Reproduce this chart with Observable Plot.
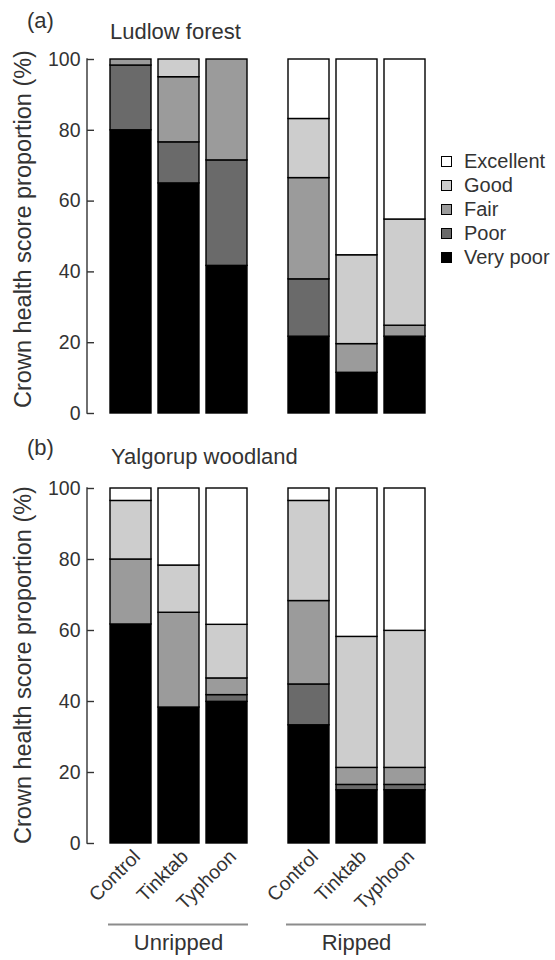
<!DOCTYPE html>
<html><head><meta charset="utf-8">
<script src="https://cdn.jsdelivr.net/npm/d3@7"></script>
<script src="https://cdn.jsdelivr.net/npm/@observablehq/plot@0.6"></script>
<style>
body{margin:0;background:#fff;font-family:"Liberation Sans",Arial,sans-serif;color:#333}
#root{position:relative;width:555px;height:960px;overflow:hidden}
.abs{position:absolute;white-space:nowrap;line-height:1}
.plot{position:absolute;left:0}
.ylab{position:absolute;width:400px;height:24px;font-size:23.5px;line-height:24px;text-align:center;transform:rotate(-90deg);white-space:nowrap}
.leg{position:absolute;left:441px;font-size:20px;line-height:1}
.leg div{height:24px;display:flex;align-items:center}
.leg span.sw{display:inline-block;width:9px;height:9px;border:1.5px solid #000;margin-right:12px}
</style></head><body><div id="root"></div>
<script>
// Score categories, stacked bottom (Very poor) to top (Excellent)
const categories = ["Very poor", "Poor", "Fair", "Good", "Excellent"];
const fills = ["#000000", "#6a6a6a", "#9b9b9b", "#cdcdcd", "#ffffff"];
const treatments = ["Control", "Tinktab", "Typhoon"];
const groups = ["Unripped", "Ripped"];
const yTicks = [0, 20, 40, 60, 80, 100];

// (a) Ludlow forest — one row per treatment, values in category order (%)
const ludlowUnripped = [
  [80, 18.3, 1.7, 0, 0],
  [65, 11.6, 18.4, 5, 0],
  [41.7, 29.8, 28.5, 0, 0]
];
const ludlowRipped = [
  [21.7, 16.2, 28.6, 16.7, 16.8],
  [11.5, 0, 8.1, 25.1, 55.3],
  [21.7, 0, 3.1, 30, 45.2]
];
// (b) Yalgorup woodland
const yalgorupUnripped = [
  [61.7, 0, 18.3, 16.5, 3.5],
  [38.3, 0, 26.7, 13.3, 21.7],
  [39.9, 1.9, 4.7, 15.1, 38.4]
];
const yalgorupRipped = [
  [33.3, 11.5, 23.5, 28.2, 3.5],
  [15, 1.5, 4.8, 36.9, 41.8],
  [15, 1.5, 4.8, 38.6, 40.1]
];

function toRows(unripped, ripped) {
  const out = [];
  [unripped, ripped].forEach((tbl, gi) => {
    tbl.forEach((vals, ti) => {
      vals.forEach((v, ci) => out.push({group: groups[gi], treatment: treatments[ti], category: categories[ci], value: v}));
    });
  });
  return out;
}

const FONT = '"Liberation Sans", Arial, sans-serif';
const ML = 108, MR = 129;

function panel(rows, {height, marginTop, marginBottom, bottomAxes}) {
  const marks = [
    Plot.barY(rows, {x: "treatment", y: "value", fx: "group", fill: "category", stroke: "#000", strokeWidth: 1.4}),
    Plot.axisY({ticks: yTicks, tickSize: 7, dx: -14, tickPadding: 7, label: null, fontSize: 19.5, strokeWidth: 1.4})
  ];
  if (bottomAxes) {
    marks.push(
      Plot.axisX({tickRotate: -45, tickSize: 0, tickPadding: 10, dx: 6, label: null, fontSize: 19.5}),
      Plot.ruleY([0], {dy: 81, stroke: "#8c8c8c", strokeWidth: 2}),
      Plot.axisFx({anchor: "bottom", tickSize: 0, tickPadding: 91, label: null, fontSize: 22})
    );
  }
  const chart = Plot.plot({
    width: 555, height, marginTop, marginBottom, marginLeft: ML, marginRight: MR,
    fx: {domain: groups, paddingInner: 0.2135, paddingOuter: 0, label: null, axis: bottomAxes ? undefined : null},
    x: {domain: treatments, paddingInner: 0.155, paddingOuter: 0.02, label: null, axis: bottomAxes ? undefined : null},
    y: {domain: [0, 100], label: null},
    color: {domain: categories, range: fills},
    style: {fontFamily: FONT, fontSize: "19px", color: "#333", background: "transparent", overflow: "visible"},
    marks
  });
  // vertical y-axis line, offset left of the frame like the ticks
  const yr = chart.scale("y").range;
  d3.select(chart).append("line")
    .attr("x1", ML - 21).attr("x2", ML - 21)
    .attr("y1", yr[0] + 0.7).attr("y2", yr[1] - 0.7)
    .attr("stroke", "#333").attr("stroke-width", 1.4);
  return chart;
}

const root = document.getElementById("root");

const a = panel(toRows(ludlowUnripped, ludlowRipped), {height: 430, marginTop: 59, marginBottom: 17, bottomAxes: false});
a.classList.add("plot"); a.style.top = "0px";
root.appendChild(a);

const b = panel(toRows(yalgorupUnripped, yalgorupRipped), {height: 530, marginTop: 58, marginBottom: 117, bottomAxes: true});
b.classList.add("plot"); b.style.top = "430px";
root.appendChild(b);

function addText(txt, left, top, size) {
  const d = document.createElement("div");
  d.className = "abs"; d.textContent = txt;
  d.style.left = left + "px"; d.style.top = top + "px"; d.style.fontSize = size + "px";
  root.appendChild(d);
}
addText("(a)", 27, 10, 22);
addText("Ludlow forest", 110, 21, 22);
addText("(b)", 27, 437, 22);
addText("Yalgorup woodland", 111, 446, 22);

function addYLabel(cy) {
  const d = document.createElement("div");
  d.className = "ylab"; d.textContent = "Crown health score proportion (%)";
  d.style.left = (23 - 200) + "px"; d.style.top = (cy - 12) + "px";
  root.appendChild(d);
}
addYLabel(229);
addYLabel(665);

// legend (top to bottom: Excellent → Very poor)
const leg = document.createElement("div");
leg.className = "leg"; leg.style.top = "149px";
categories.slice().reverse().forEach((c) => {
  const row = document.createElement("div");
  const sw = document.createElement("span");
  sw.className = "sw"; sw.style.background = fills[categories.indexOf(c)];
  row.appendChild(sw);
  row.appendChild(document.createTextNode(c));
  leg.appendChild(row);
});
root.appendChild(leg);
</script></body></html>
